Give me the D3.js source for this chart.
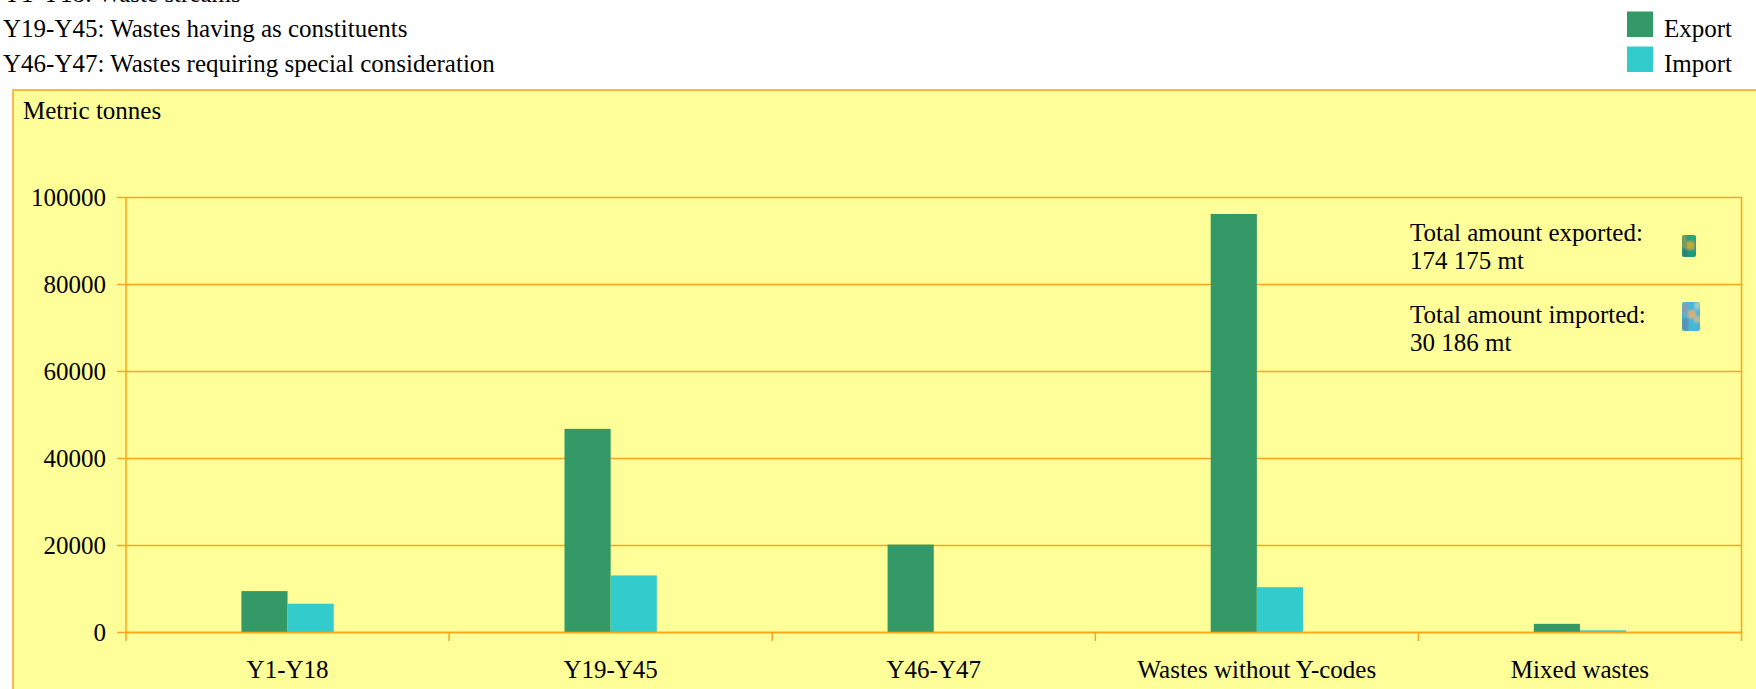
<!DOCTYPE html>
<html>
<head>
<meta charset="utf-8">
<script src="https://cdn.jsdelivr.net/npm/d3@7"></script>
<style>
  body { margin: 0; background: #fff; overflow: hidden; }
  text { font-family: "Liberation Serif", serif; font-size: 25px; fill: #000; }
</style>
</head>
<body>
<div id="chart"></div>
<script>
// values
var categories = ["Y1-Y18", "Y19-Y45", "Y46-Y47", "Wastes without Y-codes", "Mixed wastes"];
var seriesNames = ["Export", "Import"];
var exportValues = [9400, 46700, 20100, 96100, 1875];
var importValues = [6500, 13000, 0, 10300, 386];
var yTicks = [0, 20000, 40000, 60000, 80000, 100000];
var notes = ["Y1-Y18: Waste streams", "Y19-Y45: Wastes having as constituents", "Y46-Y47: Wastes requiring special consideration"];
var totals = [["Total amount exported:", "174 175 mt"], ["Total amount imported:", "30 186 mt"]];

var orange = "#ffa31a";
var colors = { Export: "#339966", Import: "#33cccc" };

var svgWidth = 1756, svgHeight = 689;
var margin = { top: 197, left: 126, right: 14.5, bottom: 57 };
var chartWidth = svgWidth - margin.left - margin.right;
var chartHeight = svgHeight - margin.top - margin.bottom;

var svg = d3.select("#chart").append("svg")
    .attr("width", svgWidth)
    .attr("height", svgHeight)
    .style("display", "block");

// notes above the chart
svg.append("g").selectAll("text")
    .data(notes)
    .enter().append("text")
    .attr("x", 3)
    .attr("y", (d, i) => 1.5 + i * 35)
    .text(d => d);

// yellow frame, runs off the right and bottom of the page
svg.append("rect")
    .attr("x", 13).attr("y", 90)
    .attr("width", svgWidth).attr("height", svgHeight)
    .attr("fill", "#ffff99")
    .attr("stroke", orange)
    .attr("stroke-width", 1.5);

svg.append("text").attr("x", 23).attr("y", 119).text("Metric tonnes");

// legend
var legend = svg.append("g").selectAll("g")
    .data(seriesNames)
    .enter().append("g")
    .attr("transform", (d, i) => `translate(1627, ${11.5 + i * 35})`);
legend.append("rect")
    .attr("width", 26).attr("height", 25.5)
    .attr("fill", d => colors[d]);
legend.append("text")
    .attr("x", 37).attr("y", 25)
    .text(d => d);

var chartGroup = svg.append("g")
    .attr("transform", `translate(${margin.left}, ${margin.top})`);

// scales
var x0 = d3.scaleBand().domain(categories).range([0, chartWidth]);
var x1 = d3.scaleBand().domain(seriesNames).range([0, x0.bandwidth()]).paddingInner(0).paddingOuter(2.5);
var y = d3.scaleLinear().domain([0, 100000]).range([chartHeight, 0]);

// y axis with gridlines
var yAxis = d3.axisLeft(y).tickValues(yTicks).tickFormat(d3.format("d")).tickSize(9).tickPadding(11);
var yG = chartGroup.append("g").call(yAxis);
yG.selectAll(".tick line").attr("x2", chartWidth).attr("x1", -9);
yG.selectAll(".tick line, .domain").attr("stroke", orange).attr("stroke-width", 1.5);
yG.select(".domain").attr("d", `M0,0V${chartHeight + 9}`);
yG.selectAll("text").style("font-size", "25px").style("font-family", "Liberation Serif").attr("dy", "0.33em");

// right edge of the plot and separators between categories
chartGroup.append("g").selectAll("line")
    .data(d3.range(1, categories.length + 1))
    .enter().append("line")
    .attr("x1", i => i * x0.step()).attr("x2", i => i * x0.step())
    .attr("y1", i => i === categories.length ? 0 : chartHeight)
    .attr("y2", chartHeight + 9)
    .attr("stroke", orange)
    .attr("stroke-width", 1.5);

// bars
var rows = seriesNames.map((s, k) => ({ name: s, values: k === 0 ? exportValues : importValues }));
chartGroup.append("g").selectAll("g")
    .data(rows)
    .enter().append("g")
    .attr("fill", d => colors[d.name])
    .selectAll("rect")
    .data(d => d.values.map((v, i) => ({ name: d.name, cat: categories[i], value: v })))
    .enter().append("rect")
    .attr("x", d => x0(d.cat) + x1(d.name))
    .attr("y", d => y(d.value))
    .attr("width", x1.bandwidth())
    .attr("height", d => chartHeight - y(d.value));

// category labels
var xG = chartGroup.append("g")
    .attr("transform", `translate(0, ${chartHeight})`)
    .call(d3.axisBottom(x0).tickSize(0).tickPadding(28));
xG.select(".domain").attr("stroke", orange).attr("stroke-width", 1.5);
xG.selectAll("text").style("font-size", "25px").style("font-family", "Liberation Serif");

// totals box text
var totalG = svg.append("g").selectAll("g")
    .data(totals)
    .enter().append("g")
    .attr("transform", (d, i) => `translate(1410, ${241 + i * 82})`);
totalG.append("text").text(d => d[0]);
totalG.append("text").attr("y", 28).text(d => d[1]);

// little textured can icons next to the totals
var defs = svg.append("defs");
defs.append("filter").attr("id", "soft").append("feGaussianBlur").attr("stdDeviation", 0.9);
function can(id, xp, yp, w, h, patches) {
    defs.append("clipPath").attr("id", id).append("rect")
        .attr("x", xp).attr("y", yp).attr("width", w).attr("height", h).attr("rx", 2);
    var g = svg.append("g").attr("clip-path", `url(#${id})`);
    var inner = g.append("g").attr("filter", "url(#soft)");
    patches.forEach(p => inner.append("rect")
        .attr("x", xp + p[0] * w).attr("y", yp + p[1] * h)
        .attr("width", p[2] * w).attr("height", p[3] * h)
        .attr("fill", p[4]));
}
can("can1", 1682, 235, 14, 22, [
    [-0.2, -0.2, 1.4, 1.4, "#1f9c7c"],
    [0, 0, 0.3, 0.6, "#7d9a52"],
    [0.35, 0.3, 0.5, 0.35, "#c9ab2c"],
    [0.55, 0, 0.45, 0.25, "#25a585"],
    [0.05, 0.65, 0.35, 0.35, "#2f7f78"]
]);
can("can2", 1682, 302, 18, 29, [
    [-0.2, -0.2, 1.4, 1.4, "#45b8d8"],
    [0, 0.05, 0.3, 0.35, "#8a9ab0"],
    [0.35, 0.3, 0.4, 0.25, "#dcae68"],
    [0, 0.55, 0.35, 0.45, "#5f8fb5"],
    [0.7, 0, 0.3, 0.25, "#a2c8c4"],
    [0.7, 0.5, 0.3, 0.2, "#c4b98a"]
]);
</script>
</body>
</html>
